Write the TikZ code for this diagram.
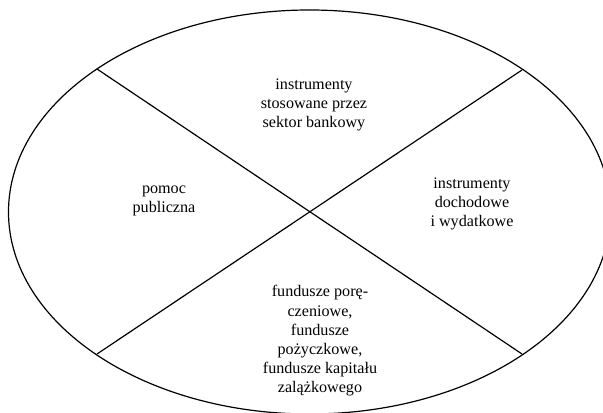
\documentclass[tikz,border=0pt]{standalone}
\usepackage{fontspec}
\setmainfont{Liberation Serif}
\usetikzlibrary{positioning}

\begin{document}
\begin{tikzpicture}[x=0.75pt, y=-0.75pt,
      every node/.append style={align=center,font=\fontsize{12.1}{14.4}\selectfont}]
    \tikzstyle{sector} = [inner sep=0pt,color=black]
    \tikzstyle{border} = [line width=0.9pt]
    \useasboundingbox (0,0) rectangle (603,413);
    \clip (0,0) rectangle (603,413);
    \draw[border] (309.5,212) ellipse [x radius=301, y radius=202];
    \coordinate (upleft) at (97,69);
    \coordinate (upright) at (522,70);
    \coordinate (lowleft) at (97,354);
    \coordinate (lowright) at (522,354);
    \draw[border] (upleft) -- (lowright);
    \draw[border] (upright) -- (lowleft);
    \node[sector] (bank) at (314,105) {instrumenty\\stosowane przez\\sektor bankowy};
    \node[sector] (pomoc) at (164,201) {pomoc\\publiczna};
    \node[sector] (dochody) at (472,204) {instrumenty\\dochodowe\\i wydatkowe};
    \node[sector] (fundusze) at (320,341) {fundusze porę-\\czeniowe,\\fundusze\\pożyczkowe,\\fundusze kapitału\\zalążkowego};
\end{tikzpicture}
\end{document}
